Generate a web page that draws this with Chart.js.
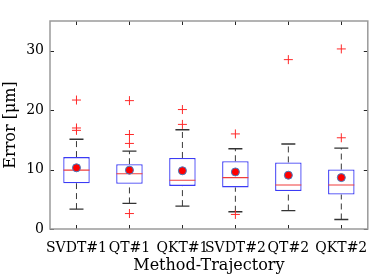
<!DOCTYPE html>
<html>
<head>
<meta charset="utf-8">
<script src="https://cdn.jsdelivr.net/npm/chart.js@4.4.1/dist/chart.umd.min.js"></script>
<style>
  html, body { margin: 0; padding: 0; background: #fff; }
  #wrap { width: 382px; height: 280px; position: relative; }
</style>
</head>
<body>
<div id="wrap"><canvas id="boxChart"></canvas></div>
<script>
// --- data ---
const methods = ['SVDT#1', 'QT#1', 'QKT#1', 'SVDT#2', 'QT#2', 'QKT#2'];
const whiskerLow = [3.35, 4.3, 3.85, 2.9, 3.1, 1.6];
const q1 = [7.7, 7.6, 7.25, 7.0, 6.4, 5.8];
const medians = [9.9, 9.3, 8.2, 8.65, 7.4, 7.4];
const q3 = [12.1, 10.9, 11.95, 11.4, 11.2, 10.0];
const whiskerHigh = [15.1, 13.1, 16.7, 13.5, 14.3, 13.6];
const means = [10.3, 9.9, 9.8, 9.6, 9.05, 8.65];
const outliers = [
  [21.7, 17.0, 16.6],
  [21.6, 15.9, 14.4, 2.6],
  [20.1, 17.6],
  [16.0, 2.45],
  [28.5],
  [30.3, 15.35]
];
const yTicks = [0, 10, 20, 30];

const FONT = 'DejaVu Serif';

// dashed whisker segments, broken with nulls
const whiskerPts = [];
methods.forEach((m, i) => {
  whiskerPts.push({ x: m, y: whiskerLow[i] }, { x: m, y: q1[i] }, { x: m, y: null });
  whiskerPts.push({ x: m, y: q3[i] }, { x: m, y: whiskerHigh[i] }, { x: m, y: null });
});
const capPts = [];
methods.forEach((m, i) => {
  capPts.push({ x: m, y: whiskerLow[i] }, { x: m, y: whiskerHigh[i] });
});
const outlierPts = [];
methods.forEach((m, i) => {
  outliers[i].forEach(v => outlierPts.push({ x: m, y: v }));
});

// frame + inward ticks, MATLAB style
const frameTicks = {
  id: 'frameTicks',
  afterDraw(chart) {
    const { ctx, chartArea: a, scales } = chart;
    ctx.save();
    ctx.strokeStyle = '#262626';
    ctx.lineWidth = 1;
    ctx.beginPath();
    methods.forEach((m, i) => {
      const x = Math.round(scales.x.getPixelForValue(i)) + 0.5;
      ctx.moveTo(x, a.bottom); ctx.lineTo(x, a.bottom - 4);
      ctx.moveTo(x, a.top); ctx.lineTo(x, a.top + 4);
    });
    yTicks.forEach(v => {
      const y = Math.round(scales.y.getPixelForValue(v)) + 0.5;
      ctx.moveTo(a.left, y); ctx.lineTo(a.left + 4, y);
      ctx.moveTo(a.right, y); ctx.lineTo(a.right - 4, y);
    });
    ctx.stroke();
    ctx.strokeStyle = '#9a9a9a';
    ctx.lineWidth = 1.5;
    ctx.strokeRect(a.left, a.top, a.right - a.left, a.bottom - a.top);
    ctx.restore();
  }
};

const ctx = document.getElementById('boxChart').getContext('2d');
new Chart(ctx, {
  type: 'bar',
  data: {
    labels: methods,
    datasets: [
      {
        type: 'line',
        data: whiskerPts,
        borderColor: '#3a3a3a',
        borderWidth: 1,
        borderDash: [6, 4],
        pointRadius: 0,
        spanGaps: false,
        order: 5
      },
      {
        type: 'line',
        data: capPts,
        showLine: false,
        pointStyle: 'line',
        pointRadius: 7,
        borderColor: '#333',
        borderWidth: 1.3,
        order: 4
      },
      {
        data: methods.map((m, i) => [q1[i], q3[i]]),
        backgroundColor: 'rgba(255,255,255,1)',
        borderColor: '#3b3bf5',
        borderWidth: 1.3,
        borderSkipped: false,
        barPercentage: 0.5,
        categoryPercentage: 1.0,
        order: 3
      },
      {
        type: 'line',
        data: methods.map((m, i) => ({ x: m, y: medians[i] })),
        showLine: false,
        pointStyle: 'line',
        pointRadius: 13,
        borderColor: '#f03c3c',
        borderWidth: 1.2,
        order: 2
      },
      {
        type: 'line',
        data: outlierPts,
        showLine: false,
        pointStyle: 'cross',
        pointRadius: 4.5,
        borderColor: '#ff2a2a',
        borderWidth: 1,
        order: 1
      },
      {
        type: 'line',
        data: methods.map((m, i) => ({ x: m, y: means[i] })),
        showLine: false,
        pointStyle: 'circle',
        pointRadius: 4,
        backgroundColor: '#ff0000',
        borderColor: '#3f7fc4',
        borderWidth: 1,
        order: 0
      }
    ]
  },
  options: {
    responsive: true,
    maintainAspectRatio: false,
    animation: false,
    layout: { padding: { top: 21, right: 8, left: 0, bottom: 0 } },
    plugins: { legend: { display: false }, tooltip: { enabled: false } },
    scales: {
      x: {
        offset: true,
        grid: { display: false, drawTicks: false },
        border: { display: false },
        ticks: {
          color: '#000',
          font: { family: FONT, size: 14 },
          autoSkip: false,
          maxRotation: 0,
          minRotation: 0,
          padding: 11
        },
        title: {
          display: true,
          text: 'Method-Trajectory',
          color: '#000',
          font: { family: FONT, size: 16 },
          padding: { top: 0, bottom: 5 }
        },
        afterFit: (s) => { s.height = 51; }
      },
      y: {
        min: 0,
        max: 35,
        grid: { display: false, drawTicks: false },
        border: { display: false },
        afterBuildTicks: (s) => { s.ticks = yTicks.map(v => ({ value: v })); },
        ticks: {
          color: '#000',
          font: { family: FONT, size: 14 },
          padding: 6
        },
        title: {
          display: true,
          text: 'Error [\u03bcm]',
          color: '#000',
          font: { family: FONT, size: 16 },
          padding: { top: 1.5, bottom: 4 }
        },
        afterFit: (s) => { s.width = 50; }
      }
    }
  },
  plugins: [frameTicks]
});
</script>
</body>
</html>
